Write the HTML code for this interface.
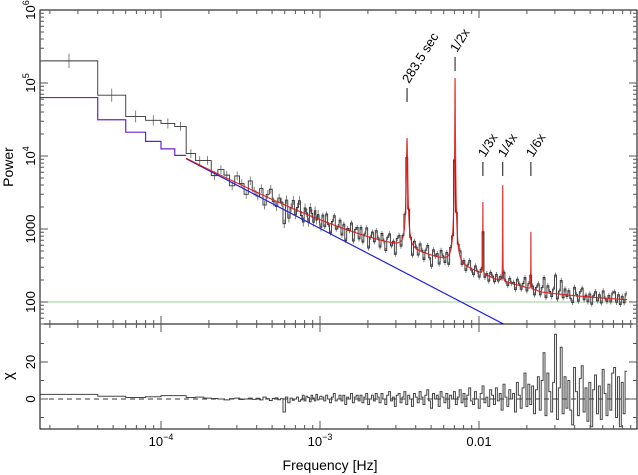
<!DOCTYPE html>
<html><head><meta charset="utf-8"><style>
html,body{margin:0;padding:0;background:#fff;}
svg{display:block;font-family:"Liberation Sans",sans-serif;}
</style></head><body>
<svg id="chart" width="638" height="475" viewBox="0 0 638 475" xmlns="http://www.w3.org/2000/svg">
<g id="plot-layer"></g>
<text x="330" y="470" font-size="14" text-anchor="middle">Frequency [Hz]</text>
<text transform="translate(13,167) rotate(-90)" font-size="14" text-anchor="middle">Power</text>
<text transform="translate(13,376) rotate(-90)" font-size="15" text-anchor="middle">χ</text>
</svg>
<script>
// ---- data ----
const lowBinEdges = [1.74e-5, 4.0e-5, 6.0e-5, 8.0e-5, 1.0e-4, 1.22e-4, 1.44e-4];
const linStep = 2.1e-5, linEnd = 1.0e-3;
const logStep = 1.028, logEnd = 0.0835;
const plNorm = 13900, plRefFreq = 1e-4, plIndex = 1.135;
const constLevel = 100;
const bumpLogF = [-3.9, -3.5, -3.0, -2.5, -2.2, -1.9, -1.6, -1.0];
const bumpP = [0, 200, 220, 220, 140, 50, 10, 0];
const peakFreq = [3.527e-3, 7.07e-3, 1.058e-2, 1.41e-2, 2.12e-2];
const peakAmp = [17100, 116600, 2100, 3800, 760];
const peakWidth = [2.2e-5, 1.6e-5, 1.2e-5, 1.5e-5, 2e-5];
const peakLabels = ["283.5 sec", "1/2x", "1/3x", "1/4x", "1/6x"];
const ratioLow = [3.18, 2.17, 1.64, 1.94, 2.23, 2.49];
const ratioLin = [1.25,1.15,1.3,0.9,1.2,1.1,0.85,1.25,1.05,0.8,1.3,1.0,0.9,1.2,0.75,1.1,1.35,0.95,0.85,1.15,1.05,0.55,1.2,0.7,1.0,1.3,0.85,1.1,1.4,0.9,0.75,1.2,1.05,0.8,1.3,1.1,0.85,1.25,0.95,1.15,0.8];
const ratioLog = [1.2,0.85,1.3,0.95,0.75,1.1,1.35,0.9,1.0,1.25,
0.8,1.15,0.7,1.05,1.0,1.3,0.75,1.1,1.2,0.85,
1.25,0.8,1.05,1.3,0.7,1.0,1.2,0.9,1.3,1.05,
0.8,1.25,1.0,0.75,1.15,1.3,0.9,1.05,0.7,1.15,
1.25,0.85,1.05,1.3,0.75,1.15,1.0,0.7,1.2,1.05,
0.85,1.25,1.05,0.8,1.1,1.3,0.9,0.7,1.2,1.0,
1.1,0.8,1.25,1.05,0.85,1.15,0.75,1.1,1.0,1.2,
0.85,1.05,1.2,0.9,1.1,0.85,1.05,1.25,0.95,0.85,
1.15,1.0,0.85,1.1,1.3,0.9,1.05,0.85,1.15,1.05,
0.9,1.15,0.95,1.1,0.85,1.25,1.0,0.9,1.15,1.0,
1.05,0.85,1.2,1.05,0.9,1.1,1.35,0.9,1.15,0.95,
1.1,0.85,1.1,1.25,0.9,1.15,1.6,0.85,1.25,1.05,
0.9,1.15,1.8,0.85,1.1,1.55,0.9,1.2,0.95,1.15,
0.9,0.8,1.3,1.05,0.85,1.15,1.3,0.9,1.05,0.85,
1.1,0.8,1.05,1.2,0.9,1.1,0.85,1.25,1.0,0.9,
1.1,0.9,1.2,1.25,0.9,1.15,0.85,1.1,0.9,1.2,1.15];
const errDexLow = [0.1, 0.09, 0.08, 0.07, 0.07, 0.06];
const chiLow = [2.5, 1.5, 0.8, 1.2, 1.8, 1.8];
const chiLin = [0.8,1,0.5,0.3,0,-0.5,0.2,0.5,-0.3,0,0.5,-0.2,0.4,-0.5,1,0.2,-0.8,0.3,0.6,-0.4,0.2,-7,1,-2,0.5,-0.7,0,1,-1.2,-0.5,2,-1,1.5,0.8,-1.5,2,0.5,-1,2.5,-0.5,1.5];
const chiLog = [1,-1,2,0,-2,1,3,-1,0,2,
-1,2,-3,1,0,3,-2,1,2,-1,
2,-2,1,3,-3,0,2,-1,3,1,
-2,3,0,-3,2,4,-1,1,-4,2,
3,-2,1,4,-3,2,0,-4,3,1,
-2,4,1,-3,2,5,-1,-5,3,0,
2,-4,4,1,-2,3,-5,2,0,4,
-3,1,5,-2,3,-4,2,6,-1,-3,
4,0,-5,3,7,-2,1,-4,5,2,
-3,6,-1,3,-6,8,1,-4,5,0,
3,-7,9,2,-5,6,14,-4,8,-3,
7,-8,5,12,-6,10,25,-9,14,4,
-7,9,35,-11,6,28,-8,12,-5,10,
-6,-14,17,4,-9,11,18,-7,6,-12,
9,-15,5,13,-8,7,-11,16,3,-9,
8,-6,14,17,-10,12,-15,9,-8,15,12];
const yTickVals = [100, 1000, 1e4, 1e5, 1e6];
const yTickLabels = ["100", "1000", "10^4", "10^5", "10^6"];
const chiTickVals = [0, 20];
const xTickVals = [1e-4, 1e-3, 1e-2];
const xTickLabels = ["10^−4", "10^−3", "0.01"];

// ---- geometry ----
const L = 40, R = 637, T = 10, MB = 324, B = 429;
const xOf = f => 161 + 159 * (Math.log10(f) + 4);
const yOf = p => 10 + 73 * (6 - Math.log10(p));
const yChi = c => 399 - 1.85 * c;

const NS = "http://www.w3.org/2000/svg";
const layer = document.getElementById('plot-layer');
function mk(tag, attrs, parent) {
  const e = document.createElementNS(NS, tag);
  for (const k in attrs) e.setAttribute(k, attrs[k]);
  (parent || layer).appendChild(e);
  return e;
}

const bins = [];
for (let i = 0; i < lowBinEdges.length - 1; i++) bins.push([lowBinEdges[i], lowBinEdges[i + 1]]);
let f = lowBinEdges[lowBinEdges.length - 1];
while (f + linStep <= linEnd + 1e-9 && bins.length < 6 + ratioLin.length) { bins.push([f, f + linStep]); f += linStep; }
f = linEnd;
for (let i = 0; i < ratioLog.length; i++) { bins.push([f, f * logStep]); f *= logStep; }
const ratios = ratioLow.concat(ratioLin).concat(ratioLog);
const chis = chiLow.concat(chiLin).concat(chiLog);

function plaw(fr) { return plNorm * Math.pow(fr / plRefFreq, -plIndex); }
function bump(fr) {
  const lf = Math.log10(fr);
  if (lf <= bumpLogF[0] || lf >= bumpLogF[bumpLogF.length - 1]) return 0;
  for (let i = 0; i < bumpLogF.length - 1; i++) {
    if (lf >= bumpLogF[i] && lf <= bumpLogF[i + 1]) {
      const t = (lf - bumpLogF[i]) / (bumpLogF[i + 1] - bumpLogF[i]);
      return bumpP[i] + t * (bumpP[i + 1] - bumpP[i]);
    }
  }
  return 0;
}
function model(fr) {
  let p = plaw(fr) + constLevel + bump(fr);
  for (let i = 0; i < peakFreq.length; i++) p += peakAmp[i] / (1 + Math.pow((fr - peakFreq[i]) / peakWidth[i], 2));
  return p;
}

const defs = mk('defs', {});
const cp = mk('clipPath', { id: 'clipMain' }, defs);
mk('rect', { x: L, y: T, width: R - L, height: MB - T }, cp);
const cp2 = mk('clipPath', { id: 'clipChi' }, defs);
mk('rect', { x: L, y: MB, width: R - L, height: B - MB }, cp2);
const gMain = mk('g', { 'clip-path': 'url(#clipMain)' });


const gChi = mk('g', { 'clip-path': 'url(#clipChi)' });



const cl = mk('line', { x1: L, x2: xOf(bins[bins.length - 1][1]), y1: yOf(constLevel), y2: yOf(constLevel), stroke: '#99cc99', 'stroke-width': 1 }, gMain);



// error bars
let e = '';
bins.forEach((b, i) => {
  const c = Math.sqrt(b[0] * b[1]);
  const p = model(c) * ratios[i];
  const ed = i < errDexLow.length ? errDexLow[i] : (i < 6 + ratioLin.length ? 0.06 : 0.035);
  const xc = (xOf(b[0]) + xOf(b[1])) / 2;
  e += 'M' + xc.toFixed(2) + ',' + yOf(p * Math.pow(10, ed)).toFixed(2) + 'V' + yOf(p / Math.pow(10, ed)).toFixed(2);
});
const ep = mk('path', { d: e, fill: 'none', stroke: '#666', 'stroke-width': 0.8 }, gMain);



let d = '';
bins.forEach((b, i) => {
  const c = Math.sqrt(b[0] * b[1]);
  const y = yOf(model(c) * ratios[i]);
  d += (i === 0 ? 'M' : 'L') + xOf(b[0]).toFixed(2) + ',' + y.toFixed(2) + 'L' + xOf(b[1]).toFixed(2) + ',' + y.toFixed(2);
});
const dp = mk('path', { d: d, fill: 'none', stroke: '#333', 'stroke-width': 0.9 }, gMain);



let md = '';
for (let i = 0; i < 6; i++) {
  const b = bins[i], c = Math.sqrt(b[0] * b[1]);
  const y = yOf(model(c));
  md += (i === 0 ? 'M' : 'L') + xOf(b[0]).toFixed(2) + ',' + y.toFixed(2) + 'L' + xOf(b[1]).toFixed(2) + ',' + y.toFixed(2);
}
const mp = mk('path', { d: md, fill: 'none', stroke: '#6a22cc', 'stroke-width': 1.2 }, gMain);



const f0 = lowBinEdges[lowBinEdges.length - 1];
const bl = mk('line', { x1: xOf(f0), y1: yOf(plaw(f0)), x2: xOf(0.05), y2: yOf(plaw(0.05)), stroke: '#2222dd', 'stroke-width': 1.2 }, gMain);



const fs = [];
const fEnd = bins[bins.length - 1][1];
for (let i = 0; i <= 2000; i++) fs.push(f0 * Math.pow(fEnd / f0, i / 2000));
peakFreq.forEach((pf, i) => { for (let k = -30; k <= 30; k++) fs.push(pf + k * peakWidth[i] * 0.5); });
fs.sort((a, b) => a - b);
let rd = '';
fs.forEach((fr, i) => { rd += (i === 0 ? 'M' : 'L') + xOf(fr).toFixed(2) + ',' + yOf(model(fr)).toFixed(2); });
const rp = mk('path', { d: rd, fill: 'none', stroke: '#dd1111', 'stroke-width': 1.2, opacity: 0.85 }, gMain);



const markTop = [88, 57, 162, 162, 162];
peakFreq.forEach((pf, i) => {
  const x = xOf(pf);
  const g = mk('g', {});
  
  
  mk('line', { x1: x, x2: x, y1: markTop[i], y2: markTop[i] + 14, stroke: '#111', 'stroke-width': 1 }, g);
  const t = mk('text', { transform: 'translate(' + (x + 2) + ',' + (markTop[i] - 4) + ') rotate(-58)', 'font-size': 13 }, g);
  t.textContent = peakLabels[i];
});

const z = mk('line', { x1: L, x2: R, y1: yChi(0), y2: yChi(0), stroke: '#333', 'stroke-width': 1, 'stroke-dasharray': '5,4' }, gChi);


let cd = '';
bins.forEach((b, i) => {
  const y = yChi(chis[i]);
  cd += (i === 0 ? 'M' : 'L') + xOf(b[0]).toFixed(2) + ',' + y.toFixed(2) + 'L' + xOf(b[1]).toFixed(2) + ',' + y.toFixed(2);
});
const cpth = mk('path', { d: cd, fill: 'none', stroke: '#444', 'stroke-width': 1 }, gChi);



const fr1 = mk('rect', { x: L, y: T, width: R - L, height: MB - T, fill: 'none', stroke: '#000', 'stroke-width': 1 });


const fr2 = mk('rect', { x: L, y: MB, width: R - L, height: B - MB, fill: 'none', stroke: '#000', 'stroke-width': 1 });



let tk = '';
for (let dec = -5; dec <= -2; dec++) for (let m = 1; m <= 9; m++) {
  const v = m * Math.pow(10, dec), x = xOf(v);
  if (x < L || x > R) continue;
  const len = m === 1 ? 8 : 4;
  [T, MB].forEach(yt => tk += 'M' + x.toFixed(1) + ',' + yt + 'v' + len);
  [MB, B].forEach(yb => tk += 'M' + x.toFixed(1) + ',' + yb + 'v' + (-len));
}
for (let dec = 1; dec <= 5; dec++) for (let m = 1; m <= 9; m++) {
  const v = m * Math.pow(10, dec), y = yOf(v);
  if (y < T || y > MB) continue;
  const len = m === 1 ? 8 : 4;
  tk += 'M' + L + ',' + y.toFixed(1) + 'h' + len + 'M' + R + ',' + y.toFixed(1) + 'h' + (-len);
}
[-10, 0, 10, 20, 30].forEach(c => { const y = yChi(c); const len = c % 20 === 0 ? 8 : 4; tk += 'M' + L + ',' + y.toFixed(1) + 'h' + len + 'M' + R + ',' + y.toFixed(1) + 'h' + (-len); });
const tp = mk('path', { d: tk, stroke: '#555', 'stroke-width': 1, fill: 'none' });



function labelWithExp(parent, txt, attrs) {
  const t = mk('text', attrs, parent);
  const parts = txt.split('^');
  t.appendChild(document.createTextNode(parts[0]));
  if (parts[1]) {
    const s = mk('tspan', { dy: -6, 'font-size': 9 }, t);
    s.textContent = parts[1];
  }
  return t;
}
yTickVals.forEach((v, i) => {
  const y = yOf(v);
  const t = labelWithExp(layer, yTickLabels[i], { transform: 'translate(35,' + y + ') rotate(-90)', 'font-size': 13, 'text-anchor': 'middle' });
  
  
});
chiTickVals.forEach(v => {
  const t = mk('text', { transform: 'translate(35,' + yChi(v) + ') rotate(-90)', 'font-size': 13, 'text-anchor': 'middle' });
  t.textContent = String(v);
  
  
});
xTickVals.forEach((v, i) => {
  const t = labelWithExp(layer, xTickLabels[i], { x: xOf(v), y: 446, 'font-size': 13, 'text-anchor': 'middle' });
  
  
});
</script>
</body></html>
